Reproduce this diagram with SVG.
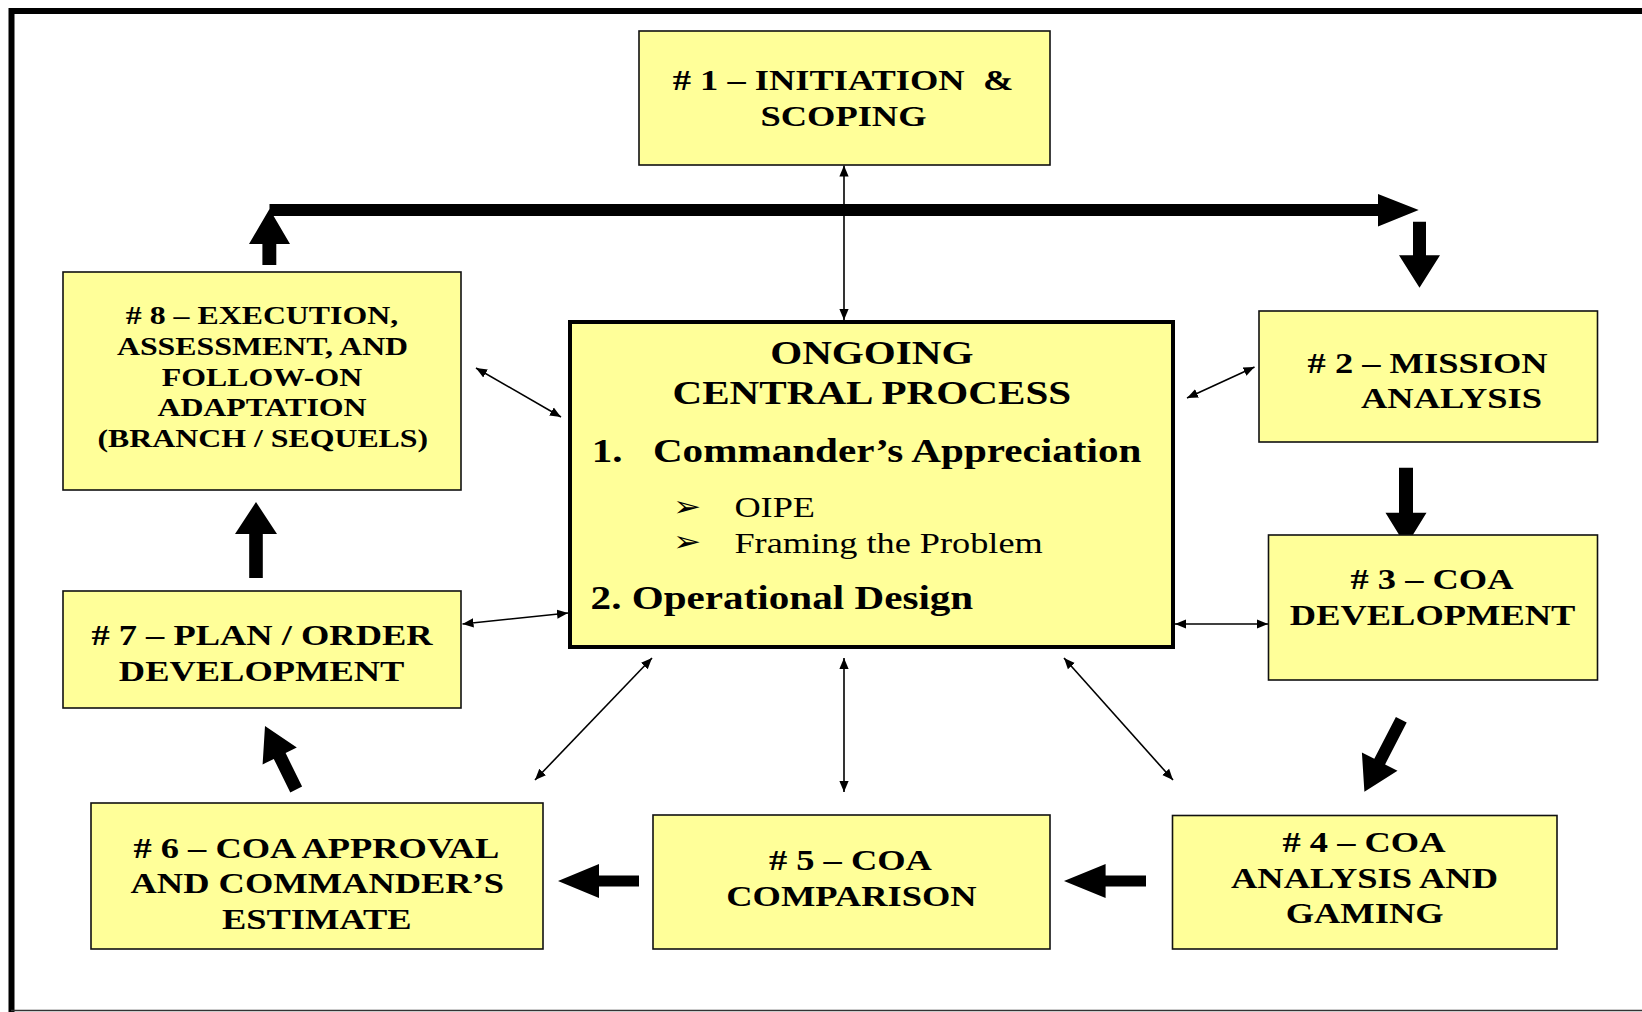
<svg xmlns="http://www.w3.org/2000/svg" width="1642" height="1012" viewBox="0 0 1642 1012">
<defs>
<style>
.box{fill:#FFFF99;stroke:#111;stroke-width:1.6}
.cbox{fill:#FFFF99;stroke:#000;stroke-width:4}
.t{font-family:"Liberation Serif","Times New Roman",serif;font-weight:bold;font-size:30px;text-anchor:middle;fill:#000}
.t8{font-size:26.2px}
.c{font-family:"Liberation Serif","Times New Roman",serif;font-weight:bold;font-size:34px;fill:#000}
.r{font-family:"Liberation Serif","Times New Roman",serif;font-weight:normal;font-size:30px;fill:#000}
.bul{font-family:"DejaVu Sans",sans-serif;font-size:28px;fill:#000}
.thin{stroke:#000;stroke-width:1.6;fill:none;marker-start:url(#ah);marker-end:url(#ah)}
.thick{fill:#000;stroke:none}
</style>
<marker id="ah" viewBox="0 0 10 10" refX="10" refY="5" markerWidth="11" markerHeight="11" markerUnits="userSpaceOnUse" orient="auto-start-reverse">
<path d="M0,0.8 L10,5 L0,9.2 z" fill="#000"/>
</marker>
</defs>
<rect x="0" y="0" width="1642" height="1012" fill="#fff"/>
<g id="frame">
<path d="M1642,11 H11.5 V1012" fill="none" stroke="#000" stroke-width="6"/>
<line x1="11" y1="1010.5" x2="1642" y2="1010.5" stroke="#333" stroke-width="1.5"/>
</g>
<g id="connectors">
<line class="thin" x1="844" y1="165.5" x2="844" y2="320"/>
<line class="thin" x1="476" y1="368" x2="561" y2="417"/>
<line class="thin" x1="1187" y1="398" x2="1254.5" y2="367"/>
<line class="thin" x1="462.5" y1="624" x2="568" y2="613"/>
<line class="thin" x1="1175" y1="624" x2="1268" y2="624"/>
<line class="thin" x1="652" y1="658" x2="535" y2="780"/>
<line class="thin" x1="844" y1="658" x2="844" y2="792"/>
<line class="thin" x1="1064" y1="658" x2="1173" y2="780"/>
<polygon class="thick" points="269.5,204 1378,204 1378,194 1418.7,210 1378,226.5 1378,216 269.5,216"/>
<polygon class="thick" points="262.4,265 262.4,244 249,244 269.5,209 290,244 276.3,244 276.3,265"/>
<polygon class="thick" points="1413,221.7 1426,221.7 1426,255.3 1440,255.3 1419.5,287.7 1399,255.3 1413,255.3"/>
<polygon class="thick" points="1399,467.7 1413,467.7 1413,512.7 1426.5,512.7 1406,546 1385.5,512.7 1399,512.7"/>
<polygon class="thick" points="1395.9,716.9 1406.7,722.5 1385.1,764.4 1397.5,770.7 1364.4,791.7 1361.9,752.5 1374.3,758.8"/>
<polygon class="thick" points="1146,875.5 1146,886.5 1105.6,886.5 1105.6,898 1064,881 1105.6,864 1105.6,875.5"/>
<polygon class="thick" points="639,875.5 639,886.5 599,886.5 599,898 558,881 599,864 599,875.5"/>
<polygon class="thick" points="290.3,792.4 302.1,786.6 285.6,753.1 296.8,747.6 265,726 262.6,764.4 273.8,758.9"/>
<polygon class="thick" points="249.2,578 249.2,534 235,534 256,502 277,534 262.8,534 262.8,578"/>
</g>
<g id="n1">
<rect class="box" x="639" y="31" width="411" height="134"/>
<text class="t" transform="matrix(1.215 0 0 1 843 0)" x="0" y="90" xml:space="preserve"># 1 – INITIATION  &amp;</text>
<text class="t" transform="matrix(1.215 0 0 1 843.5 0)" x="0" y="126">SCOPING</text>
</g>
<g id="n8">
<rect class="box" x="63" y="272" width="398" height="218"/>
<text class="t t8" transform="matrix(1.215 0 0 1 262 0)" x="0" y="324.5"># 8 – EXECUTION,</text>
<text class="t t8" transform="matrix(1.215 0 0 1 262.5 0)" x="0" y="355.1">ASSESSMENT, AND</text>
<text class="t t8" transform="matrix(1.215 0 0 1 262 0)" x="0" y="385.7">FOLLOW-ON</text>
<text class="t t8" transform="matrix(1.215 0 0 1 262 0)" x="0" y="416.3">ADAPTATION</text>
<text class="t t8" transform="matrix(1.215 0 0 1 262.8 0)" x="0" y="446.9">(BRANCH / SEQUELS)</text>
</g>
<g id="central">
<rect class="cbox" x="570" y="322" width="603" height="325"/>
<text class="c" text-anchor="middle" transform="matrix(1.21 0 0 1 871.8 0)" x="0" y="364.3">ONGOING</text>
<text class="c" text-anchor="middle" transform="matrix(1.21 0 0 1 871.8 0)" x="0" y="404">CENTRAL PROCESS</text>
<text class="c" transform="matrix(1.21 0 0 1 591.7 0)" x="0" y="462.3">1.</text>
<text class="c" transform="matrix(1.21 0 0 1 652.9 0)" x="0" y="462.3">Commander’s Appreciation</text>
<text class="bul" transform="matrix(1.2 0 0 1 673 0)" x="0" y="516.5">➢</text>
<text class="r" transform="matrix(1.21 0 0 1 734.4 0)" x="0" y="516.7">OIPE</text>
<text class="bul" transform="matrix(1.2 0 0 1 673 0)" x="0" y="551">➢</text>
<text class="r" transform="matrix(1.21 0 0 1 734.4 0)" x="0" y="552.7">Framing the Problem</text>
<text class="c" transform="matrix(1.21 0 0 1 590.6 0)" x="0" y="609.3">2. Operational Design</text>
</g>
<g id="n2">
<rect class="box" x="1259" y="311" width="338.5" height="131"/>
<text class="t" transform="matrix(1.215 0 0 1 1427.6 0)" x="0" y="372.7"># 2 – MISSION</text>
<text class="t" transform="matrix(1.215 0 0 1 1451.5 0)" x="0" y="408.3">ANALYSIS</text>
</g>
<g id="n3">
<rect class="box" x="1268.5" y="535" width="329" height="145"/>
<text class="t" transform="matrix(1.215 0 0 1 1432 0)" x="0" y="589.3"># 3 – COA</text>
<text class="t" transform="matrix(1.215 0 0 1 1432.6 0)" x="0" y="625">DEVELOPMENT</text>
</g>
<g id="n7">
<rect class="box" x="63" y="591" width="398" height="117"/>
<text class="t" transform="matrix(1.215 0 0 1 262 0)" x="0" y="645"># 7 – PLAN / ORDER</text>
<text class="t" transform="matrix(1.215 0 0 1 261.6 0)" x="0" y="680.7">DEVELOPMENT</text>
</g>
<g id="n6">
<rect class="box" x="91" y="803" width="452" height="146"/>
<text class="t" transform="matrix(1.215 0 0 1 316.3 0)" x="0" y="858"># 6 – COA APPROVAL</text>
<text class="t" transform="matrix(1.215 0 0 1 317.3 0)" x="0" y="893.5">AND COMMANDER’S</text>
<text class="t" transform="matrix(1.215 0 0 1 316.8 0)" x="0" y="929.5">ESTIMATE</text>
</g>
<g id="n5">
<rect class="box" x="653" y="815" width="397" height="134"/>
<text class="t" transform="matrix(1.215 0 0 1 850.4 0)" x="0" y="870"># 5 – COA</text>
<text class="t" transform="matrix(1.215 0 0 1 851.4 0)" x="0" y="906">COMPARISON</text>
</g>
<g id="n4">
<rect class="box" x="1172.5" y="815.5" width="384.5" height="133.5"/>
<text class="t" transform="matrix(1.215 0 0 1 1364 0)" x="0" y="852"># 4 – COA</text>
<text class="t" transform="matrix(1.215 0 0 1 1364.5 0)" x="0" y="887.8">ANALYSIS AND</text>
<text class="t" transform="matrix(1.215 0 0 1 1364.6 0)" x="0" y="923.4">GAMING</text>
</g>
</svg>
